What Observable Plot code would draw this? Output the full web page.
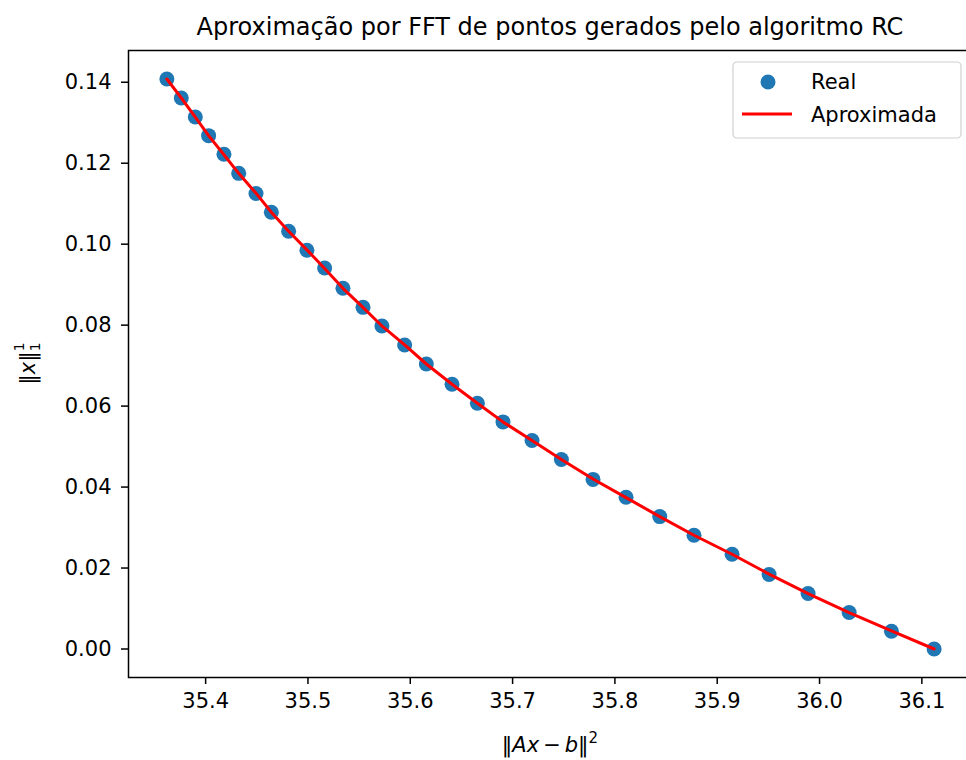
<!DOCTYPE html>
<html>
<head>
<meta charset="utf-8">
<script src="https://cdn.jsdelivr.net/npm/d3@7"></script>
<script src="https://cdn.jsdelivr.net/npm/@observablehq/plot@0.6"></script>
<style>
  html, body { margin: 0; padding: 0; background: #fff; overflow: hidden; }
  #chart { width: 966px; height: 760px; overflow: hidden; }
  #chart svg { display: block; max-width: none !important; }
</style>
</head>
<body>
<div id="chart"></div>
<script>
// ‖Ax − b‖² for each point produced by the RC algorithm
const residual = [
  35.3621, 35.3762, 35.3899, 35.4029, 35.4179, 35.4323, 35.4492, 35.4642,
  35.4811, 35.4990, 35.5163, 35.5342, 35.5538, 35.5723, 35.5945, 35.6157,
  35.6408, 35.6656, 35.6906, 35.7190, 35.7477, 35.7786, 35.8109, 35.8438,
  35.8773, 35.9145, 35.9507, 35.9888, 36.0289, 36.0703, 36.1120
];
// ‖x‖₁ measured at those points
const normReal = [
  0.1408, 0.1361, 0.1314, 0.1268, 0.1222, 0.1175, 0.1125, 0.1079,
  0.1032, 0.0985, 0.0941, 0.0891, 0.0844, 0.0798, 0.0751, 0.0704,
  0.0654, 0.0607, 0.0561, 0.0515, 0.0468, 0.0419, 0.0375, 0.0327,
  0.0281, 0.0234, 0.0184, 0.0137, 0.0090, 0.0044, 0.0000
];
// ‖x‖₁ reconstructed from the FFT approximation
const normApprox = [
  0.1408, 0.1361, 0.1314, 0.1268, 0.1221, 0.1175, 0.1126, 0.1079,
  0.1032, 0.0986, 0.0940, 0.0891, 0.0844, 0.0798, 0.0751, 0.0704,
  0.0654, 0.0607, 0.0561, 0.0515, 0.0468, 0.0420, 0.0374, 0.0327,
  0.0281, 0.0234, 0.0185, 0.0137, 0.0090, 0.0045, 0.0000
];
const xTicks = [35.4, 35.5, 35.6, 35.7, 35.8, 35.9, 36.0, 36.1];
const yTicks = [0.00, 0.02, 0.04, 0.06, 0.08, 0.10, 0.12, 0.14];
const titleText = "Aproximação por FFT de pontos gerados pelo algoritmo RC";
const seriesNames = ["Real", "Aproximada"];

const BLUE = "#1f77b4";
const RED = "#ff0000";
const FONT = "DejaVu Sans";

const real = residual.map((x, i) => ({x, y: normReal[i]}));
const approx = residual.map((x, i) => ({x, y: normApprox[i]}));

// matplotlib-style 5% margins around the data
const padded = (lo, hi) => { const d = (hi - lo) * 0.05; return [lo - d, hi + d]; };
const xDomain = padded(d3.min(residual), d3.max(residual));
const yDomain = padded(Math.min(d3.min(normReal), d3.min(normApprox)),
                       Math.max(d3.max(normReal), d3.max(normApprox)));

const chart = Plot.plot({
  width: 1000,
  height: 760,
  marginLeft: 128,
  marginRight: 28,
  marginTop: 50,
  marginBottom: 83,
  style: {fontFamily: FONT, fontSize: "21px", color: "#000", background: "#fff", overflow: "visible", maxWidth: "none"},
  x: {domain: xDomain},
  y: {domain: yDomain},
  marks: [
    Plot.axisX({ticks: xTicks, tickFormat: d => d.toFixed(1), tickSize: 7, tickPadding: 9,
                strokeWidth: 1.5, label: null, fontSize: 21}),
    Plot.axisY({ticks: yTicks, tickFormat: d => d.toFixed(2), tickSize: 7, tickPadding: 10,
                strokeWidth: 1.5, label: null, fontSize: 21}),
    Plot.dot(real, {x: "x", y: "y", r: 7.5, fill: BLUE, stroke: "none"}),
    Plot.line(approx, {x: "x", y: "y", stroke: RED, strokeWidth: 3}),
    Plot.frame({stroke: "#000", strokeWidth: 1.5})
  ]
});

document.getElementById("chart").appendChild(chart);

const svg = d3.select(chart);
const [x0, x1] = chart.scale("x").range;
const [yb, yt] = chart.scale("y").range;
const cx = (x0 + x1) / 2;
const cy = (yt + yb) / 2;

// title
svg.append("text")
  .attr("x", cx).attr("y", 35)
  .attr("text-anchor", "middle")
  .attr("font-family", FONT).attr("font-size", 24).attr("fill", "#000")
  .text(titleText);

// x label: ‖Ax − b‖²
const xl = svg.append("text")
  .attr("x", cx).attr("y", yb + 75)
  .attr("text-anchor", "middle")
  .attr("font-family", FONT).attr("font-size", 21).attr("fill", "#000");
xl.append("tspan").text("‖");
xl.append("tspan").attr("font-style", "italic").text("Ax");
xl.append("tspan").attr("dx", 4).text("−");
xl.append("tspan").attr("font-style", "italic").attr("dx", 4).text("b");
xl.append("tspan").text("‖");
xl.append("tspan").attr("font-size", 15).attr("dy", -9).text("2");

// y label: ‖x‖ with stacked sub/superscript 1
const yl = svg.append("text")
  .attr("transform", `translate(${x0 - 93},${cy}) rotate(-90)`)
  .attr("text-anchor", "middle")
  .attr("font-family", FONT).attr("font-size", 21).attr("fill", "#000");
yl.append("tspan").text("‖");
yl.append("tspan").attr("font-style", "italic").text("x");
yl.append("tspan").text("‖");
yl.append("tspan").attr("font-size", 14).attr("dy", 5).text("1");
yl.append("tspan").attr("font-size", 14).attr("dx", -9).attr("dy", -16).text("1");

// legend in the upper-right corner of the axes
const lg = svg.append("g").attr("transform", `translate(${x1 - 239},${yt + 12})`)
  .attr("text-anchor", "start");
lg.append("rect")
  .attr("width", 228).attr("height", 76).attr("rx", 4)
  .attr("fill", "#fff").attr("fill-opacity", 0.8)
  .attr("stroke", "#d0d0d0").attr("stroke-width", 1.2);
lg.append("circle").attr("cx", 35).attr("cy", 20).attr("r", 7.5).attr("fill", BLUE);
lg.append("line").attr("x1", 9).attr("x2", 59).attr("y1", 52).attr("y2", 52)
  .attr("stroke", RED).attr("stroke-width", 3);
lg.append("text").attr("x", 78).attr("y", 27).attr("text-anchor", "start")
  .attr("font-family", FONT).attr("font-size", 21).attr("fill", "#000").text(seriesNames[0]);
lg.append("text").attr("x", 78).attr("y", 60).attr("text-anchor", "start")
  .attr("font-family", FONT).attr("font-size", 21).attr("fill", "#000").text(seriesNames[1]);
</script>
</body>
</html>
